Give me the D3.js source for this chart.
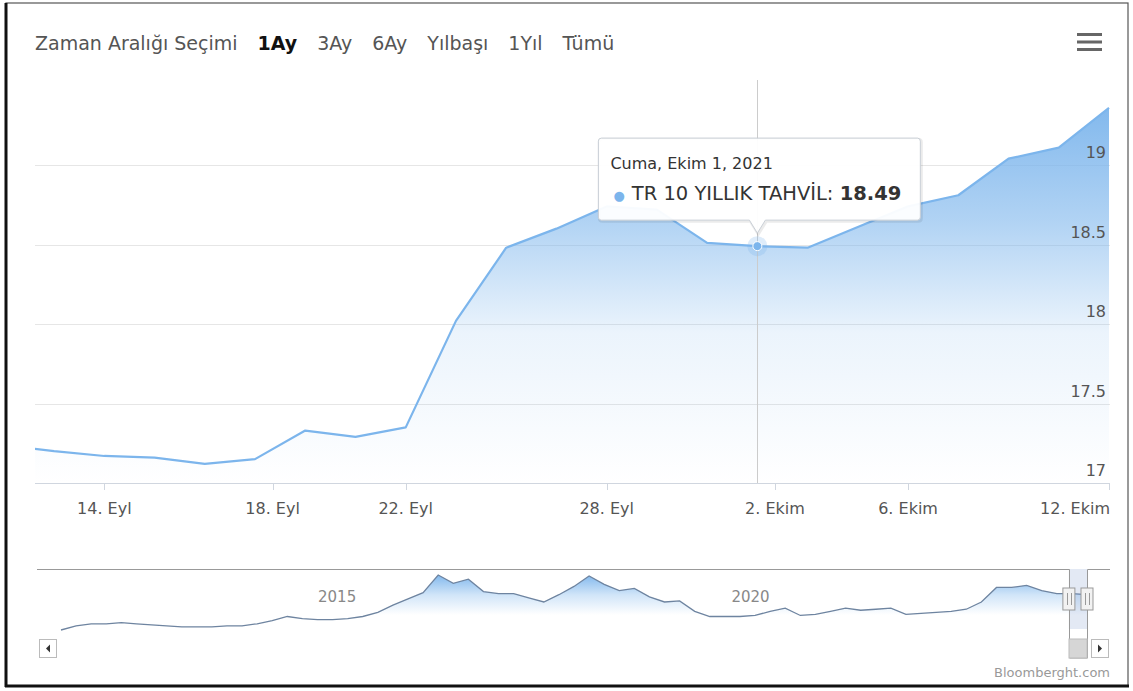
<!DOCTYPE html>
<html><head><meta charset="utf-8">
<script src="https://cdn.jsdelivr.net/npm/d3@7/dist/d3.min.js"></script>
<style>
body{margin:0;background:#fff}
svg{display:block}
text{font-family:"DejaVu Sans",Verdana,sans-serif}
</style>
</head><body>
<svg id="c" width="1133" height="691"></svg>
<script>
// ---------- DATA ----------
const dates = ["2021-09-10","2021-09-13","2021-09-14","2021-09-15","2021-09-16","2021-09-17",
  "2021-09-20","2021-09-21","2021-09-22","2021-09-23","2021-09-24","2021-09-27","2021-09-28",
  "2021-09-29","2021-09-30","2021-10-01","2021-10-04","2021-10-05","2021-10-06","2021-10-07",
  "2021-10-08","2021-10-11","2021-10-12"];
const values = [17.24,17.20,17.17,17.16,17.12,17.15,17.33,17.29,17.35,18.02,18.48,18.60,18.74,
  18.72,18.51,18.49,18.48,18.61,18.74,18.81,19.04,19.11,19.36];
const seriesName = "TR 10 YILLIK TAHVİL";
const hoverIndex = 15;               // Cuma, Ekim 1, 2021
const xTickLabels = ["14. Eyl","18. Eyl","22. Eyl","28. Eyl","2. Ekim","6. Ekim","12. Ekim"];
const xTickIndex  = [2, 5.35, 8, 12, 15.35, 18, 22];   // ordinal positions (weekend ticks fall after Friday)
const yTicks = [17, 17.5, 18, 18.5, 19];
const yDomain = [17, 19.535];
const rangeLabel = "Zaman Aralığı Seçimi";
const rangeButtons = ["1Ay","3Ay","6Ay","Yılbaşı","1Yıl","Tümü"];
const selectedButton = "1Ay";
const navValues = [7.69,9.03,9.69,9.69,10.03,9.69,9.36,9.03,8.69,8.69,8.69,9.03,9.03,9.69,10.69,
  12.03,11.36,11.03,11.03,11.36,12.03,13.36,15.69,17.69,19.69,25.36,22.69,24.03,20.03,19.36,19.36,
  18.03,16.69,19.03,21.69,25.03,22.36,20.36,21.03,18.36,16.69,17.03,13.69,12.03,12.03,12.03,12.36,
  13.69,14.69,12.36,12.69,13.69,14.69,14.03,14.36,14.69,12.69,13.03,13.36,13.69,14.36,16.69,21.36,
  21.36,22.03,20.36,19.36,19.36,19.03];
const navYearLabels = ["2015","2020"];
const navYearIndex = [18.3, 45.7];
const navWindow = [66.8, 68];
const credit = "Bloomberght.com";
const trDays = ["Pazar","Pazartesi","Salı","Çarşamba","Perşembe","Cuma","Cumartesi"];
const trMonths = ["Ocak","Şubat","Mart","Nisan","Mayıs","Haziran","Temmuz","Ağustos","Eylül","Ekim","Kasım","Aralık"];

// ---------- SETUP ----------
const svg = d3.select("#c");
const blue = "#7cb5ec";
const parse = d3.timeParse("%Y-%m-%d");
const data = dates.map((d,i)=>({i, date: parse(d), v: values[i]}));

// frame
svg.append("rect").attr("x",6).attr("y",3).attr("width",1122).attr("height",683)
  .attr("fill","none").attr("stroke","#555").attr("stroke-width",1.2);
svg.append("line").attr("x1",6).attr("x2",6).attr("y1",3).attr("y2",687).attr("stroke","#111").attr("stroke-width",3);
svg.append("line").attr("x1",5).attr("x2",1129).attr("y1",686).attr("y2",686).attr("stroke","#111").attr("stroke-width",3);

const plot = {left:35, right:1109, top:80, bottom:483};
const x = d3.scaleLinear().domain([0.62, dates.length-1]).range([plot.left, plot.right]);
const y = d3.scaleLinear().domain(yDomain).range([plot.bottom, plot.top]);

// defs
const defs = svg.append("defs");
defs.append("clipPath").attr("id","clipMain").append("rect")
  .attr("x",plot.left).attr("y",plot.top).attr("width",plot.right-plot.left+1).attr("height",plot.bottom-plot.top);
const g1 = defs.append("linearGradient").attr("id","gMain").attr("gradientUnits","userSpaceOnUse")
  .attr("x1",0).attr("x2",0).attr("y1",y(d3.max(values))).attr("y2",plot.bottom);
[[0,0.95],[0.3,0.6],[0.6,0.15],[1,0]].forEach(([o,a])=>g1.append("stop").attr("offset",o).attr("stop-color",blue).attr("stop-opacity",a));

// ---------- RANGE SELECTOR ----------
const topY = 50;
const rl = svg.append("text").attr("x",35).attr("y",topY).attr("font-size",19).attr("fill","#555").text(rangeLabel);
let bx = 35 + rl.node().getComputedTextLength() + 20;
rangeButtons.forEach(b=>{
  const t = svg.append("text").attr("x",bx).attr("y",topY).attr("font-size",19)
    .attr("fill", b===selectedButton ? "#111" : "#555")
    .attr("font-weight", b===selectedButton ? "bold" : "normal").text(b);
  bx += t.node().getComputedTextLength() + 20;
});
// context menu icon
[0,1,2].forEach(k=>svg.append("rect").attr("x",1077).attr("y",33+k*7.5).attr("width",25).attr("height",3)
  .attr("fill","#666"));

// ---------- MAIN PLOT ----------
const grid = svg.append("g");
yTicks.forEach(t=>{
  grid.append("line").attr("x1",plot.left).attr("x2",plot.right+1).attr("y1",Math.round(y(t))+0.5).attr("y2",Math.round(y(t))+0.5)
    .attr("stroke", t===yTicks[0] ? "#d0d6df" : "#e6e6e6").attr("stroke-width",1);
});
const main = svg.append("g").attr("clip-path","url(#clipMain)");
const area = d3.area().x(d=>x(d.i)).y0(plot.bottom).y1(d=>y(d.v));
const line = d3.line().x(d=>x(d.i)).y(d=>y(d.v));
main.append("path").datum(data).attr("d",area).attr("fill","url(#gMain)");
main.append("path").datum(data).attr("d",line).attr("fill","none").attr("stroke",blue).attr("stroke-width",2.2)
  .attr("stroke-linejoin","round");

// y labels
yTicks.forEach(t=>{
  svg.append("text").attr("x",plot.right-3).attr("y",y(t)-7).attr("text-anchor","end")
    .attr("font-size",16).attr("fill","#555").text(t);
});
// x ticks + labels
xTickIndex.forEach((p,k)=>{
  const px = Math.round(x(p))+0.5;
  svg.append("line").attr("x1",px).attr("x2",px).attr("y1",plot.bottom).attr("y2",plot.bottom+7)
    .attr("stroke","#d0d6df");
  const t = svg.append("text").attr("x",x(p)).attr("y",514).attr("text-anchor","middle")
    .attr("font-size",16).attr("fill","#555").text(xTickLabels[k]);
  const w = t.node().getComputedTextLength();
  if (x(p) + w/2 > plot.right + 1) t.attr("x", plot.right + 1 - w/2);
});

// crosshair + hover point
const hp = data[hoverIndex];
const px = Math.round(x(hp.i))+0.5, py = y(hp.v);
svg.append("line").attr("x1",px).attr("x2",px).attr("y1",plot.top).attr("y2",plot.bottom).attr("stroke","#cccccc");
svg.append("circle").attr("cx",x(hp.i)).attr("cy",py).attr("r",10).attr("fill",blue).attr("opacity",0.25);
svg.append("circle").attr("cx",x(hp.i)).attr("cy",py).attr("r",4.5).attr("fill",blue).attr("stroke","#fff").attr("stroke-width",1);

// tooltip
const fmt = d => `${trDays[d.getDay()]}, ${trMonths[d.getMonth()]} ${d.getDate()}, ${d.getFullYear()}`;
const tt = svg.append("g");
const ttPath = tt.append("path");
const hdr = tt.append("text").attr("font-size",16).attr("fill","#333").text(fmt(hp.date));
const body = tt.append("text").attr("font-size",19.5).attr("fill","#333");
body.append("tspan").attr("fill",blue).attr("font-size",13).text("●");
body.append("tspan").attr("dx",7).text(seriesName + ": ");
body.append("tspan").attr("font-weight","bold").text(hp.v.toFixed(2));
const wBody = body.node().getComputedTextLength()+7;
const wHdr = hdr.node().getComputedTextLength();
const boxW = Math.max(wBody, wHdr) + 34;
const bL = x(hp.i) - boxW/2 + 2, bR = bL + boxW, bT = py - 108, bB = py - 26, tip = py - 13;
const r = 3, cx0 = x(hp.i);
const pathD = `M${bL+r},${bT} L${bR-r},${bT} Q${bR},${bT} ${bR},${bT+r} L${bR},${bB-r} Q${bR},${bB} ${bR-r},${bB}
  L${cx0+8},${bB} L${cx0},${tip} L${cx0-8},${bB} L${bL+r},${bB} Q${bL},${bB} ${bL},${bB-r} L${bL},${bT+r} Q${bL},${bT} ${bL+r},${bT} Z`;
tt.insert("path",":first-child").attr("d",pathD).attr("transform","translate(1,1)").attr("fill","none")
  .attr("stroke","rgba(0,0,0,0.08)").attr("stroke-width",3);
ttPath.attr("d",pathD).attr("fill","rgba(255,255,255,0.95)").attr("stroke","#c9cfd6").attr("stroke-width",1);
hdr.attr("x",bL+12).attr("y",bT+31);
body.attr("x",bL+15).attr("y",bT+62);

// ---------- NAVIGATOR ----------
const nav = {left:57, right:1090, top:569, bottom:629, outL:37, outR:1110};
const nx = d3.scaleLinear().domain([0, navValues.length-1]).range([61, 1087]);
const ny = d3.scaleLinear().domain(d3.extent(navValues)).range([630, 575]);
const g2 = defs.append("linearGradient").attr("id","gNav").attr("gradientUnits","userSpaceOnUse")
  .attr("x1",0).attr("x2",0).attr("y1",ny(d3.max(navValues))).attr("y2",615);
[[0,0.95],[0.5,0.35],[1,0]].forEach(([o,a])=>g2.append("stop").attr("offset",o).attr("stop-color",blue).attr("stop-opacity",a));
const navData = navValues.map((v,i)=>({i,v}));
svg.append("path").datum(navData).attr("d",d3.area().x(d=>nx(d.i)).y0(630).y1(d=>ny(d.v)))
  .attr("fill","url(#gNav)");
svg.append("path").datum(navData).attr("d",d3.line().x(d=>nx(d.i)).y(d=>ny(d.v)))
  .attr("fill","none").attr("stroke","#6e84a0").attr("stroke-width",1.3);
navYearLabels.forEach((l,k)=>svg.append("text").attr("x",nx(navYearIndex[k])).attr("y",602)
  .attr("text-anchor","middle").attr("font-size",15).attr("fill","#888").text(l));

// window mask, outline, handles
const wL = nx(navWindow[0]), wR = nx(navWindow[1]);
const sbTop = 639, sbH = 19;
svg.append("rect").attr("x",wL).attr("y",nav.top).attr("width",wR-wL).attr("height",nav.bottom-nav.top)
  .attr("fill","rgba(102,133,194,0.18)");
svg.append("path").attr("d",`M${nav.outL},${nav.top+0.5} L${Math.round(wL)+0.5},${nav.top+0.5} L${Math.round(wL)+0.5},${sbTop+sbH} L${Math.round(wR)+0.5},${sbTop+sbH} L${Math.round(wR)+0.5},${nav.top+0.5} L${nav.outR},${nav.top+0.5}`)
  .attr("fill","none").attr("stroke","#999").attr("stroke-width",1);
[wL,wR].forEach(hx=>{
  svg.append("rect").attr("x",hx-6).attr("y",588).attr("width",12).attr("height",22)
    .attr("fill","#f2f2f2").attr("stroke","#999");
  [-2,2].forEach(o=>svg.append("line").attr("x1",Math.round(hx+o)+0.5).attr("x2",Math.round(hx+o)+0.5)
    .attr("y1",593).attr("y2",605).attr("stroke","#999"));
});
// scrollbar
svg.append("rect").attr("x",Math.round(wL)).attr("y",sbTop).attr("width",wR-wL).attr("height",sbH)
  .attr("fill","#d6d6d6").attr("stroke","#bbb");
[[39,"L"],[1091,"R"]].forEach(([bx0,dir])=>{
  svg.append("rect").attr("x",bx0+0.5).attr("y",sbTop+0.5).attr("width",17).attr("height",sbH-1)
    .attr("fill","#fff").attr("stroke","#bbb");
  const cxm = bx0+9, cym = sbTop+sbH/2;
  const d = dir==="L" ? `M${cxm+2},${cym-4} L${cxm-2},${cym} L${cxm+2},${cym+4} Z` : `M${cxm-2},${cym-4} L${cxm+2},${cym} L${cxm-2},${cym+4} Z`;
  svg.append("path").attr("d",d).attr("fill","#333");
});
// credit
svg.append("text").attr("x",1110).attr("y",677).attr("text-anchor","end").attr("font-size",13)
  .attr("fill","#999").text(credit);
</script>
</body></html>
